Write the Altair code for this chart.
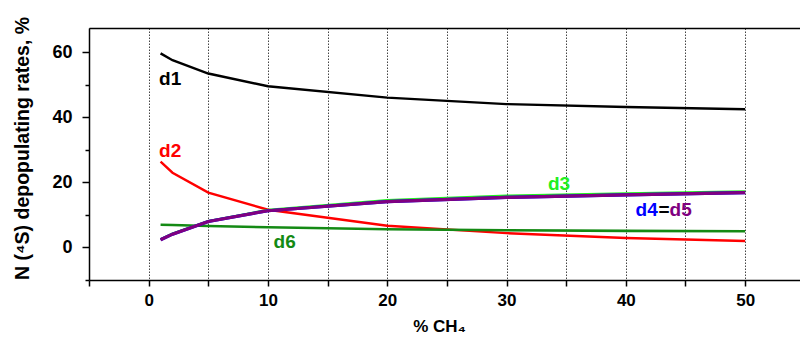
import altair as alt
import pandas as pd

# ---- data ----
ch4 = [1, 2, 5, 10, 20, 30, 40, 50]
d1 = [59.7, 57.6, 53.5, 49.6, 46.1, 44.1, 43.2, 42.5]
d2 = [26.4, 23.0, 16.9, 11.6, 6.7, 4.4, 2.9, 2.0]
d3 = [2.5, 4.2, 8.1, 11.5, 14.5, 15.9, 16.6, 17.2]
d4 = [2.4, 4.1, 8.0, 11.3, 14.1, 15.4, 16.2, 16.9]
d5 = [2.4, 4.1, 8.0, 11.3, 14.1, 15.4, 16.2, 16.9]
d6 = [7.0, 6.9, 6.6, 6.2, 5.6, 5.3, 5.1, 5.0]

series_names = ["d1", "d2", "d6", "d3", "d4", "d5"]
series_values = [d1, d2, d6, d3, d4, d5]
series_colors = ["#000000", "#ff0000", "#148a14", "#22ee22", "#0000ff", "#800080"]
series_widths = [2.4, 2.4, 2.6, 2.6, 3.2, 3.2]

label_text = ["d1", "d2", "d6", "d3", "d4", "=", "d5"]
label_x = [1.8, 1.8, 11.4, 34.4, 41.75, 43.2, 44.6]
label_y = [51.8, 29.7, 1.6, 19.6, 11.6, 11.6, 11.6]
label_color = ["#000000", "#ff0000", "#148a14", "#22ee22", "#0000ff", "#000000", "#800080"]

x_tick_values = [-5, 0, 5, 10, 15, 20, 25, 30, 35, 40, 45, 50]
y_tick_values = [-10, 0, 10, 20, 30, 40, 50, 60]

FONT = "Liberation Sans"
W, H = 711, 252
x_scale = alt.Scale(domain=[-5, 54.6], nice=False, zero=False)
y_scale = alt.Scale(domain=[-10, 67.5], nice=False, zero=False)

x_axis_bottom = alt.Axis(
    values=x_tick_values,
    labelExpr="datum.value % 10 === 0 ? datum.label : ''",
    title="% CH₄",
    titleFont=FONT, titleFontSize=17, titleFontWeight="bold",
    titleX=350, titleY=46, titleBaseline="middle", titleAlign="center",
    labelFont=FONT, labelFontSize=17, labelFontWeight="bold", labelPadding=6,
    labelColor="#000000", labelFlush=False, labelOverlap=False,
    tickSize=6, tickWidth=1.5, tickColor="#000000",
    domainColor="#000000", domainWidth=1.5,
    grid=True, gridDash=[1.5, 1.5], gridColor="#444444", gridWidth=1,
)
x_axis_top = alt.Axis(
    orient="top", labels=False, ticks=False, grid=False, title="",
    domainColor="#000000", domainWidth=1.5,
)
y_axis = alt.Axis(
    values=y_tick_values,
    labelExpr="(datum.value % 20 === 0 && datum.value >= 0) ? datum.label : ''",
    title="N (⁴S) depopulating rates, %",
    titleFont=FONT, titleFontSize=19.5, titleFontWeight="bold",
    titleX=-67, titleY=120, titleBaseline="middle", titleAlign="center", titleAngle=270,
    labelFont=FONT, labelFontSize=18, labelFontWeight="bold", labelPadding=10,
    labelColor="#000000", labelOverlap=False,
    tickSize={"condition": {"test": "datum.value % 20 === 0", "value": 7}, "value": 4},
    tickWidth=1.5, tickColor="#000000",
    domainColor="#000000", domainWidth=1.5, grid=False,
)

layers = []
for i, (name, vals, col, sw) in enumerate(zip(series_names, series_values, series_colors, series_widths)):
    df = pd.DataFrame({"x": ch4, "y": vals})
    if i == 0:
        xa = x_axis_bottom
    elif i == 1:
        xa = x_axis_top
    else:
        xa = None
    layer = alt.Chart(df).mark_line(color=col, strokeWidth=sw, clip=True).encode(
        x=alt.X("x:Q", scale=x_scale, axis=xa),
        y=alt.Y("y:Q", scale=y_scale, axis=y_axis),
    )
    layers.append(layer)

lab_df = pd.DataFrame({"t": label_text, "x": label_x, "y": label_y, "c": label_color})
labels = alt.Chart(lab_df).mark_text(
    font=FONT, fontSize=19, fontWeight="bold", align="center", baseline="middle"
).encode(
    x=alt.X("x:Q", scale=x_scale, axis=None),
    y=alt.Y("y:Q", scale=y_scale, axis=y_axis),
    text="t:N",
    color=alt.Color("c:N", scale=None),
)
layers.append(labels)

chart = alt.layer(*layers).resolve_axis(x="independent").properties(
    width=W, height=H,
    autosize=alt.AutoSizeParams(type="none"),
    padding={"left": 89, "top": 28, "right": 0, "bottom": 57},
    background="#ffffff",
).configure_view(stroke=None)

chart.save("out.html", embed_options={"renderer": "svg", "actions": False})
